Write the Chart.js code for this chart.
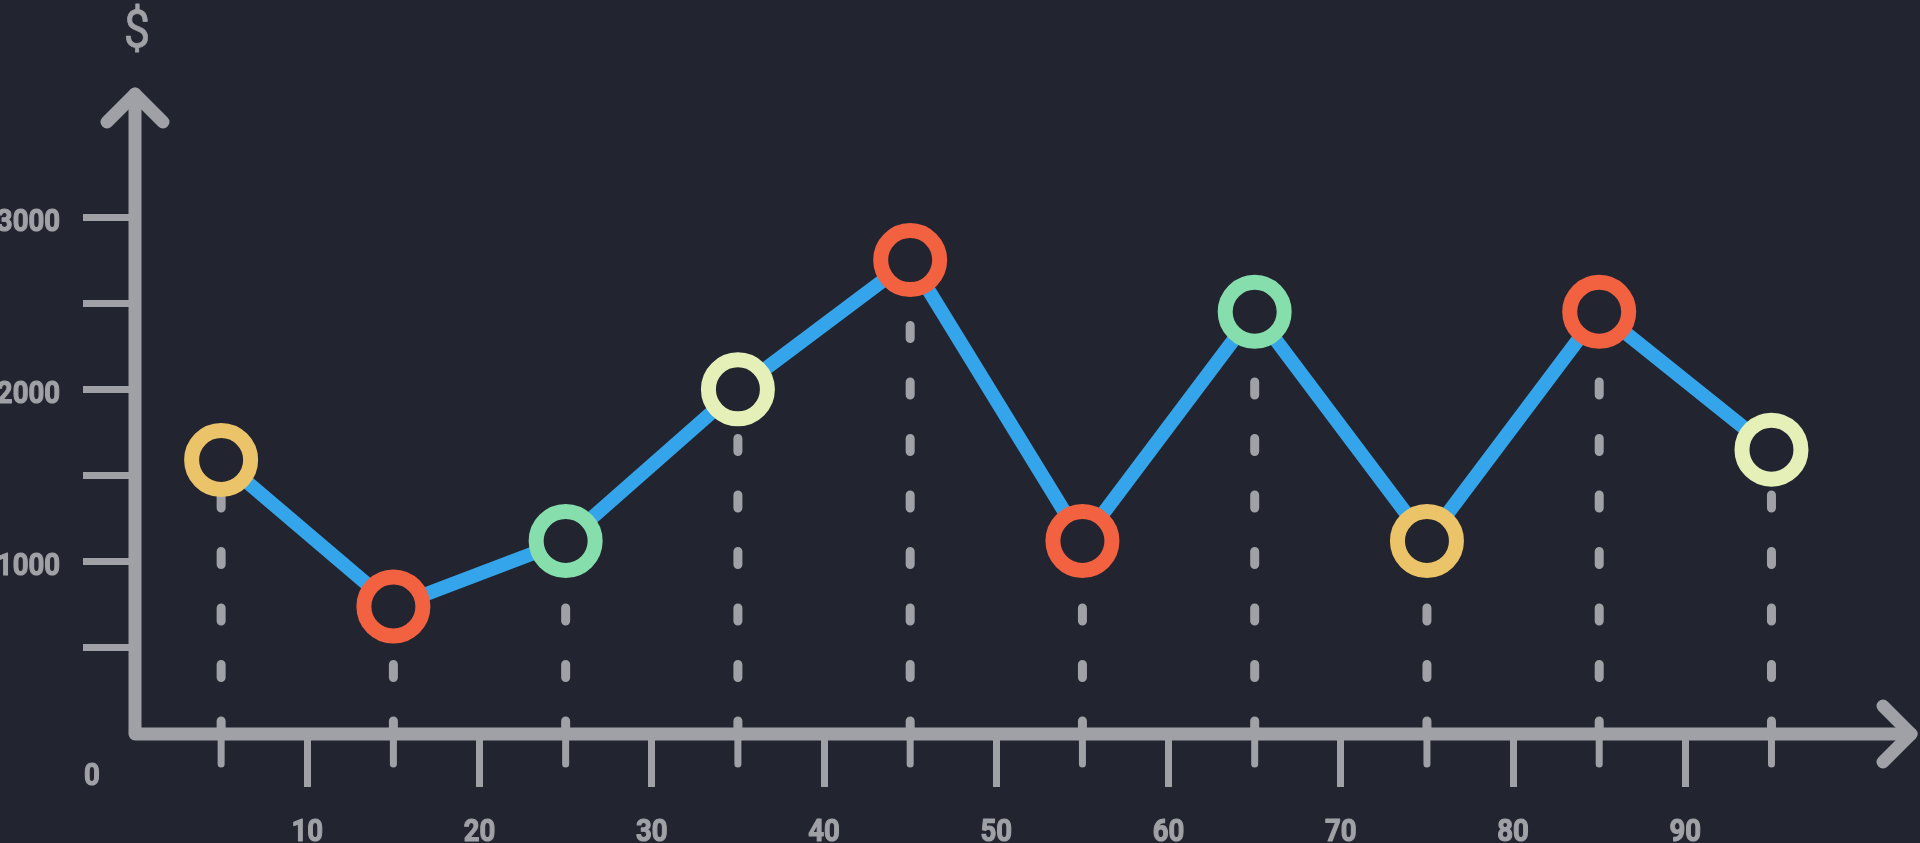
<!DOCTYPE html>
<html>
<head>
<meta charset="utf-8">
<script src="https://cdn.jsdelivr.net/npm/chart.js@4.4.1/dist/chart.umd.min.js"></script>
<style>
html, body { margin: 0; padding: 0; background: #22252f; overflow: hidden; }
#wrap { width: 1920px; height: 843px; position: relative; }
</style>
</head>
<body>
<div id="wrap"><canvas id="line_chart"></canvas></div>
<script>
// data
const xValues = [5, 15, 25, 35, 45, 55, 65, 75, 85, 95];
const amounts = [1590, 740, 1120, 2000, 2750, 1120, 2450, 1120, 2450, 1650];
const pointColors = ['#ebc368', '#f26140', '#86deac', '#e4f0b8', '#f26140',
                     '#f26140', '#86deac', '#ebc368', '#f26140', '#e4f0b8'];
const xTicks = [10, 20, 30, 40, 50, 60, 70, 80, 90];
const yTicks = [500, 1000, 1500, 2000, 2500, 3000];
const yLabels = [1000, 2000, 3000];
const xMax = 103.1;
const yMax = 3714;

const bg = '#22252f';
const grey = '#a0a1a6';
const labelFont = 'bold 32px Roboto, "Liberation Sans", sans-serif';

// narrow look: squeeze the text sideways, with a thin outline to make it heavier
function squeezedText(ctx, text, x, y, align, font, sx, heavy) {
    ctx.save();
    ctx.font = font;
    ctx.textAlign = align;
    ctx.textBaseline = 'alphabetic';
    ctx.translate(x, y);
    ctx.scale(sx, 1);
    ctx.fillText(text, 0, 0);
    if (heavy) {
        ctx.lineWidth = heavy;
        ctx.lineJoin = 'round';
        ctx.strokeStyle = ctx.fillStyle;
        ctx.strokeText(text, 0, 0);
    }
    ctx.restore();
}

// axes with arrows, dashed drop lines and all the labels
const axisArt = {
    id: 'axisArt',
    beforeDatasetsDraw(chart) {
        let ctx = chart.ctx;
        let x = chart.scales.x, y = chart.scales.y;
        let x0 = x.getPixelForValue(0), y0 = y.getPixelForValue(0);
        let right = x.getPixelForValue(xMax), top = y.getPixelForValue(yMax);
        let meta = chart.getDatasetMeta(0);

        ctx.save();
        ctx.strokeStyle = grey;
        ctx.lineCap = 'round';
        meta.data.forEach(pt => {
            ctx.lineWidth = 9;
            ctx.setLineDash([13, 43.5]);
            ctx.beginPath();
            ctx.moveTo(pt.x, y0);
            ctx.lineTo(pt.x, pt.y);
            ctx.stroke();
            ctx.lineWidth = 7;
            ctx.setLineDash([]);
            ctx.beginPath();
            ctx.moveTo(pt.x, y0);
            ctx.lineTo(pt.x, y0 + 30);
            ctx.stroke();
        });

        ctx.lineWidth = 13;
        ctx.lineJoin = 'round';
        ctx.beginPath();
        ctx.moveTo(x0, top);
        ctx.lineTo(x0, y0);
        ctx.lineTo(right, y0);
        ctx.stroke();
        ctx.beginPath();
        ctx.moveTo(x0 - 28, top + 28);
        ctx.lineTo(x0, top);
        ctx.lineTo(x0 + 28, top + 28);
        ctx.stroke();
        ctx.beginPath();
        ctx.moveTo(right - 28, y0 - 28);
        ctx.lineTo(right, y0);
        ctx.lineTo(right - 28, y0 + 28);
        ctx.stroke();

        ctx.fillStyle = grey;
        xTicks.forEach(v => {
            squeezedText(ctx, String(v), x.getPixelForValue(v), y0 + 107, 'center', labelFont, 0.86, 1.2);
        });
        yLabels.forEach(v => {
            squeezedText(ctx, String(v), x0 - 75, y.getPixelForValue(v) + 13.5, 'right', labelFont, 0.86, 1.2);
        });
        squeezedText(ctx, '0', x0 - 43, y0 + 51, 'center', labelFont, 0.86, 1.2);
        squeezedText(ctx, '$', x0 + 2, top - 47, 'center', '52px Roboto, "Liberation Sans", sans-serif', 0.9, 0.8);
        ctx.restore();
    }
};

new Chart(document.getElementById('line_chart'), {
    type: 'line',
    data: {
        datasets: [{
            data: xValues.map((v, i) => ({ x: v, y: amounts[i] })),
            borderColor: '#34a5ea',
            borderWidth: 14,
            tension: 0,
            pointRadius: 29.5,
            pointHoverRadius: 29.5,
            pointBorderWidth: 15,
            pointHoverBorderWidth: 15,
            pointBackgroundColor: bg,
            pointBorderColor: pointColors,
            clip: false
        }]
    },
    options: {
        responsive: true,
        maintainAspectRatio: false,
        animation: false,
        events: [],
        layout: { autoPadding: false, padding: { top: 94, right: 9, left: 0, bottom: 0 } },
        plugins: {
            legend: { display: false },
            tooltip: { enabled: false }
        },
        scales: {
            x: {
                type: 'linear',
                min: 0,
                max: xMax,
                afterBuildTicks: s => { s.ticks = xTicks.map(v => ({ value: v })); },
                afterFit: s => { s.height = 109; },
                border: { display: false },
                grid: { drawOnChartArea: false, drawTicks: true, tickLength: 53, tickWidth: 7, tickColor: grey },
                ticks: { display: false }
            },
            y: {
                type: 'linear',
                min: 0,
                max: yMax,
                afterBuildTicks: s => { s.ticks = yTicks.map(v => ({ value: v })); },
                afterFit: s => { s.width = 135; },
                border: { display: false },
                grid: { drawOnChartArea: false, drawTicks: true, tickLength: 52, tickWidth: 7, tickColor: grey },
                ticks: { display: false }
            }
        }
    },
    plugins: [axisArt]
});
</script>
</body>
</html>
